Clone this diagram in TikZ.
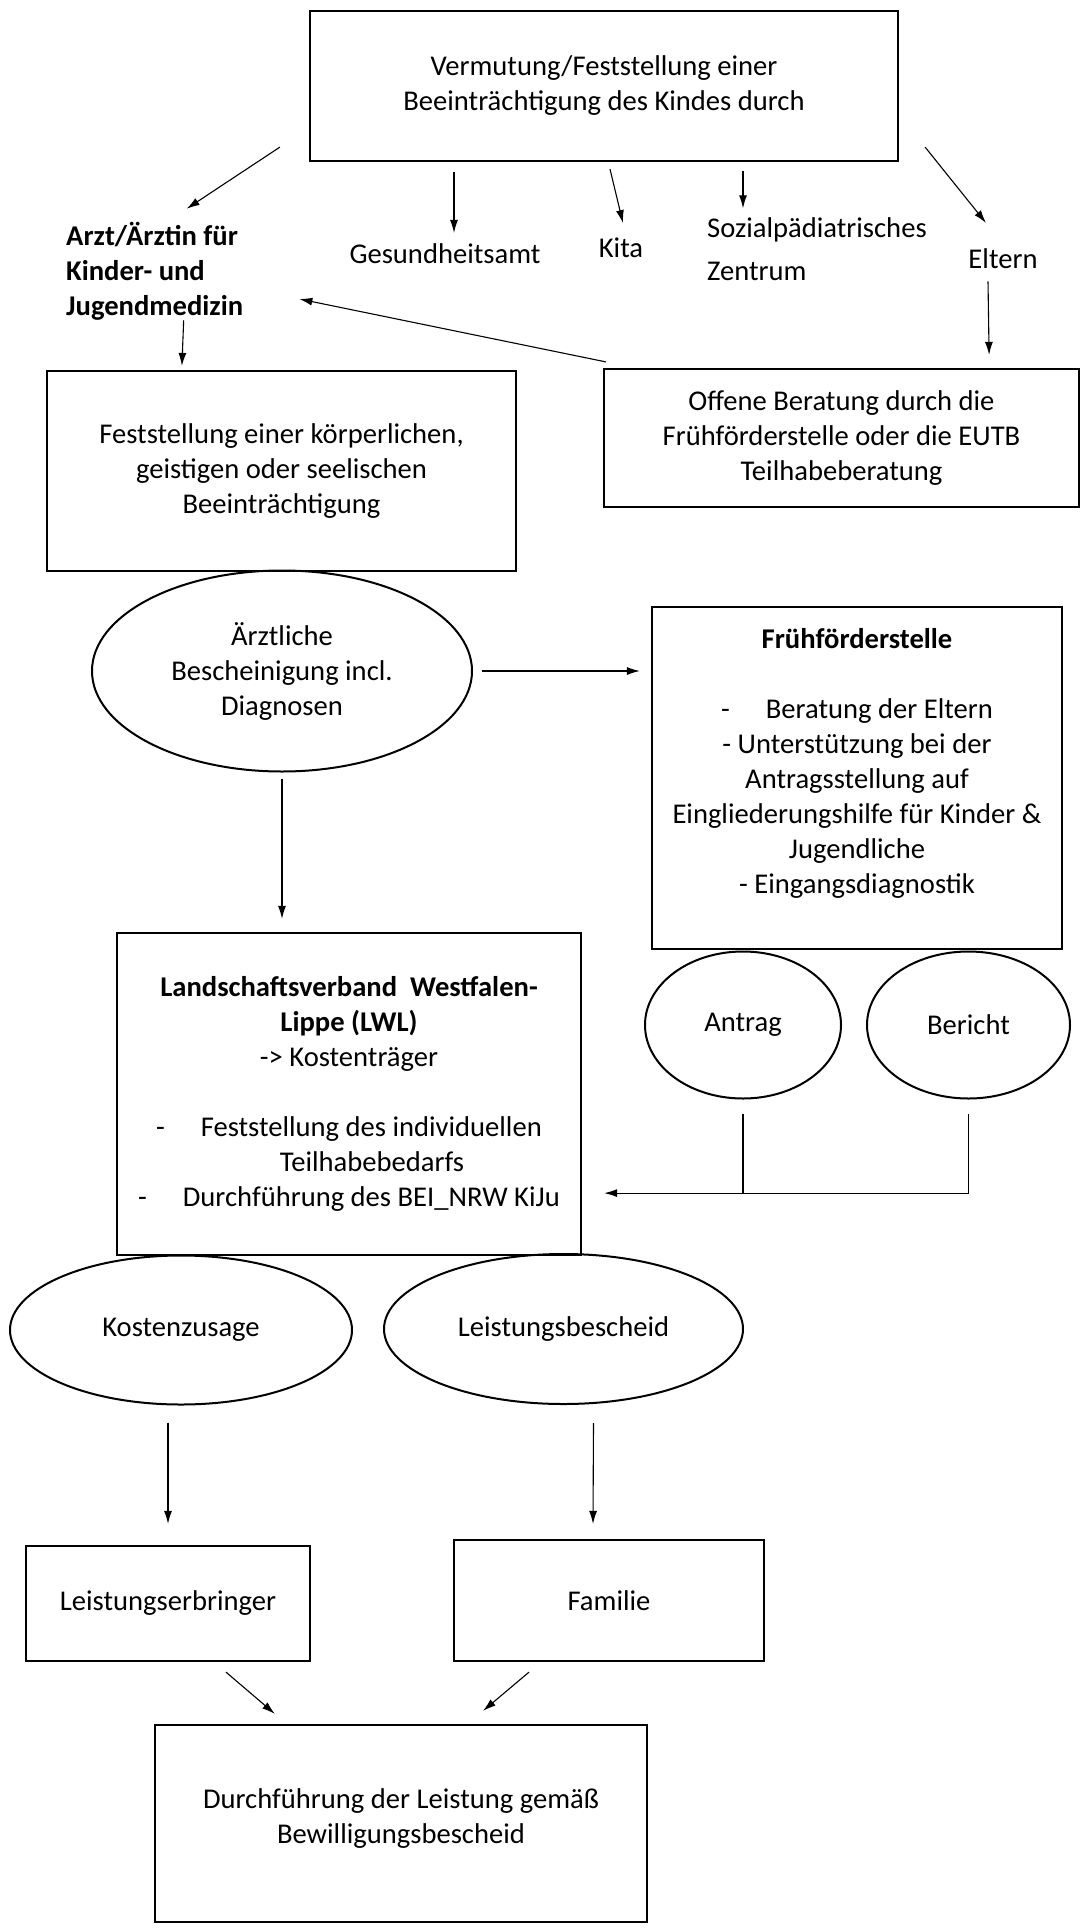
\documentclass[tikz,border=0pt]{standalone}
\usepackage{fontspec}
\setmainfont{Carlito}
\usetikzlibrary{arrows.meta,shapes.geometric}
\tikzset{
  every node/.style={font=\fontsize{28.6}{35}\selectfont, inner sep=0pt},
  box/.style={draw, line width=2.2pt, align=center},
  oval/.style={draw, ellipse, line width=2pt, align=center},
  arr/.style={-{Latex[length=13pt,width=8pt]}, line width=1.1pt},
}
\begin{document}
\begin{tikzpicture}[x=1pt,y=-1pt]
      \useasboundingbox (0,0) rectangle (1081,1930);
      \draw
        (604,86) node[box, minimum width=588pt, minimum height=150pt] (top)
          {Vermutung/Feststellung einer\\Beeinträchtigung des Kindes durch}
        (66,271) node[anchor=west, align=left] (arzt)
          {\textbf{Arzt/Ärztin für}\\\textbf{Kinder- und}\\\textbf{Jugendmedizin}}
        (445,263) node[anchor=base] (gesund) {Gesundheitsamt}
        (621,257) node[anchor=base] (kita) {Kita}
        (707,249) node[anchor=west, align=left] (spz) {Sozialpädiatrisches\\[8pt]Zentrum}
        (1003,268) node[anchor=base] (eltern) {Eltern}
        (281.5,471) node[box, minimum width=469pt, minimum height=200pt] (fest)
          {Feststellung einer körperlichen,\\geistigen oder seelischen\\Beeinträchtigung}
        (841.5,438) node[box, minimum width=475pt, minimum height=138pt] (offen)
          {Offene Beratung durch die\\Frühförderstelle oder die EUTB\\Teilhabeberatung}
        (282,671) node[oval, minimum width=380pt, minimum height=201pt] (attest)
          {Ärztliche\\Bescheinigung incl.\\Diagnosen}
        (857,778) node[box, minimum width=410pt, minimum height=342pt] (ffs)
          {\textbf{Frühförderstelle}\\[35pt]-\hspace{36pt}Beratung der Eltern\\- Unterstützung bei der\\Antragsstellung auf\\Eingliederungshilfe für Kinder \&\\Jugendliche\\- Eingangsdiagnostik\\\mbox{}}
        (349,1094) node[box, minimum width=464pt, minimum height=322pt] (lwl)
          {\textbf{Landschaftsverband\ \ Westfalen-}\\\textbf{Lippe (LWL)}\\-> Kostenträger\\[35pt]-\hspace{36pt}Feststellung des individuellen\\\hspace*{46pt}Teilhabebedarfs\\-\hspace{36pt}Durchführung des BEI\_NRW KiJu}
        (743,1025) node[oval, minimum width=196pt, minimum height=147pt] (antrag) {Antrag}
        (968.5,1025) node[oval, minimum width=203pt, minimum height=147pt] (bericht) {Bericht}
        (181,1330) node[oval, minimum width=342pt, minimum height=149pt] (kosten) {Kostenzusage}
        (563.5,1329) node[oval, minimum width=359pt, minimum height=150pt] (bescheid) {Leistungsbescheid}
        (168,1603.5) node[box, minimum width=284pt, minimum height=115pt] (erbringer) {Leistungserbringer}
        (609,1600.5) node[box, minimum width=310pt, minimum height=121pt] (familie) {Familie}
        (401,1823.5) node[box, minimum width=492pt, minimum height=197pt] (final)
          {Durchführung der Leistung gemäß\\Bewilligungsbescheid\\[-20pt]\mbox{}};
      \begin{scope}[arr]
        \draw ([shift={(-29,-15)}]top.south west) -- ([shift={(32,-13)}]arzt.north);
        \draw ([shift={(-150,10)}]top.south) -- ([shift={(9,-10)}]gesund.north);
        \draw ([shift={(6,7)}]top.south) -- ([shift={(2,-14)}]kita.north);
        \draw ([shift={(139,9)}]top.south) -- ([shift={(36,-9)}]spz.north west);
        \draw ([shift={(26,-15)}]top.south east) -- ([shift={(-17,-25)}]eltern.north);
        \draw ([shift={(29,0)}]arzt.south) -- ([shift={(136,-4)}]fest.north west);
        \draw ([shift={(3,-6)}]offen.north west) -- ([shift={(56,28)}]arzt.east);
        \draw ([shift={(-15,13)}]eltern.south) -- ([shift={(-91,-13)}]offen.north east);
        \draw[shorten <=9pt, shorten >=11pt] (attest.east) -- (attest.east -| ffs.west);
        \draw[shorten <=6pt, shorten >=13pt] (attest.south) -- (attest.south |- lwl.north);
        \draw[-] ([yshift=-14pt]antrag.south) -- ++(0,80);
        \draw ([yshift=-14pt]bericht.south) |- ([shift={(22,-63)}]lwl.south east);
        \draw[shorten >=21pt] ([shift={(-13,17)}]kosten.south) -- (erbringer.north);
        \draw ([shift={(30,18)}]bescheid.south) -- ([shift={(-16,-15)}]familie.north);
        \draw ([shift={(58,10)}]erbringer.south) -- ([shift={(121,-10)}]final.north west);
        \draw ([shift={(-80,10)}]familie.south) -- ([shift={(82,-13)}]final.north);
      \end{scope}
    \end{tikzpicture}
\end{document}
